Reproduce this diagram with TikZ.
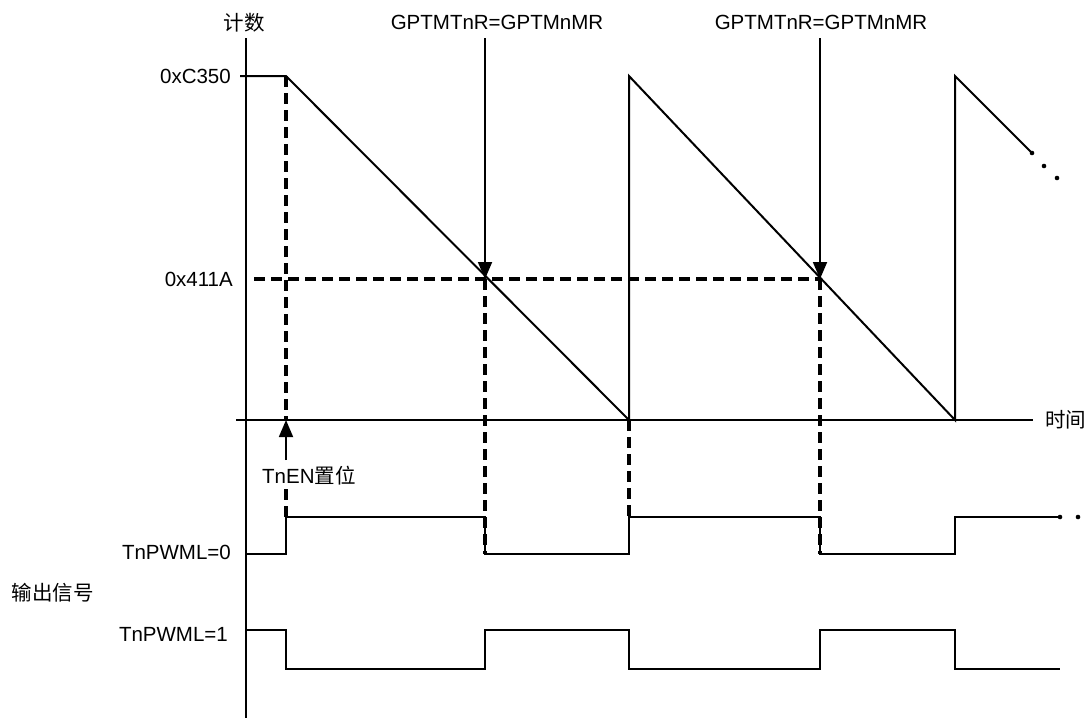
\documentclass[tikz,border=0pt]{standalone}
\usepackage{fontspec}
\setmainfont{Liberation Sans}
\newfontfamily\cjk{Noto Sans CJK SC}
\usetikzlibrary{arrows.meta}
\tikzset{
  sig/.style={line width=2pt},
  guide/.style={line width=3.5pt, dash pattern=on 11pt off 6pt},
  hit/.style={line width=1.8pt, -{Triangle[length=17pt,width=14pt]}},
  lbl/.style={font=\fontsize{20.5}{24}\selectfont, inner sep=0pt},
}
\begin{document}
\begin{tikzpicture}[x=1pt,y=-1pt]
  \useasboundingbox (0,0) rectangle (1088,724);

  % axes
  \draw[sig] (246,38) -- (246,718);
  \draw[sig] (236,420) -- (1033,420);
  \node[lbl] (count) at (244,23) {\cjk 计数};
  \node[lbl,anchor=west] (time) at (1045,420) {\cjk 时间};

  % counter
  \draw[sig] (240,76) -- (286,76) -- (629,420) -- (629,76) -- (955,420) -- (955,76) -- (1032,153);
  \fill (1032,153) circle (2.3pt);
  \fill (1044,166) circle (2.3pt);
  \fill (1057,178) circle (2.3pt);
  \node[lbl,anchor=east] (load) at (231,76) {0xC350};
  \node[lbl,anchor=east] (match) at (233,279) {0x411A};

  % match points
  \coordinate (m1) at (485,279);
  \coordinate (m2) at (820,279);
  \node[lbl] (eq1) at (497,22) {GPTMTnR=GPTMnMR};
  \node[lbl] (eq2) at (821,22) {GPTMTnR=GPTMnMR};
  \coordinate (m1top) at (485,38);
  \coordinate (m2top) at (820,38);
  \draw[hit] (m1top) -- (m1);
  \draw[hit] (m2top) -- (m2);

  % guides
  \draw[guide] (254,279) -- (m2);
  \draw[guide] (286,76) -- (286,420);
  \draw[guide] (286,489) -- (286,517);
  \draw[guide] (m1) -- (485,554);
  \draw[guide] (629,420) -- (629,517);
  \draw[guide] (m2) -- (820,554);

  % enable
  \node[lbl,anchor=west] (en) at (262,476) {TnEN\cjk 置位};
  \coordinate (enbot) at (286,460);
  \coordinate (entop) at (286,420);
  \draw[hit] (enbot) -- (entop);

  % outputs
  \draw[sig] (246,554) -- (286,554) -- (286,517) -- (485,517) -- (485,554) -- (629,554) -- (629,517) -- (820,517) -- (820,554) -- (955,554) -- (955,517) -- (1060,517);
  \fill (1060,517) circle (2.3pt);
  \fill (1078,517) circle (2.3pt);
  \draw[sig] (246,630) -- (286,630) -- (286,669) -- (485,669) -- (485,630) -- (629,630) -- (629,669) -- (820,669) -- (820,630) -- (955,630) -- (955,669) -- (1060,669);
  \node[lbl,anchor=east] (pwm0) at (231,552) {TnPWML=0};
  \node[lbl,anchor=east] (pwm1) at (228,634) {TnPWML=1};
  \node[lbl] (out) at (53,593) {\cjk 输出信号};
\end{tikzpicture}
\end{document}
